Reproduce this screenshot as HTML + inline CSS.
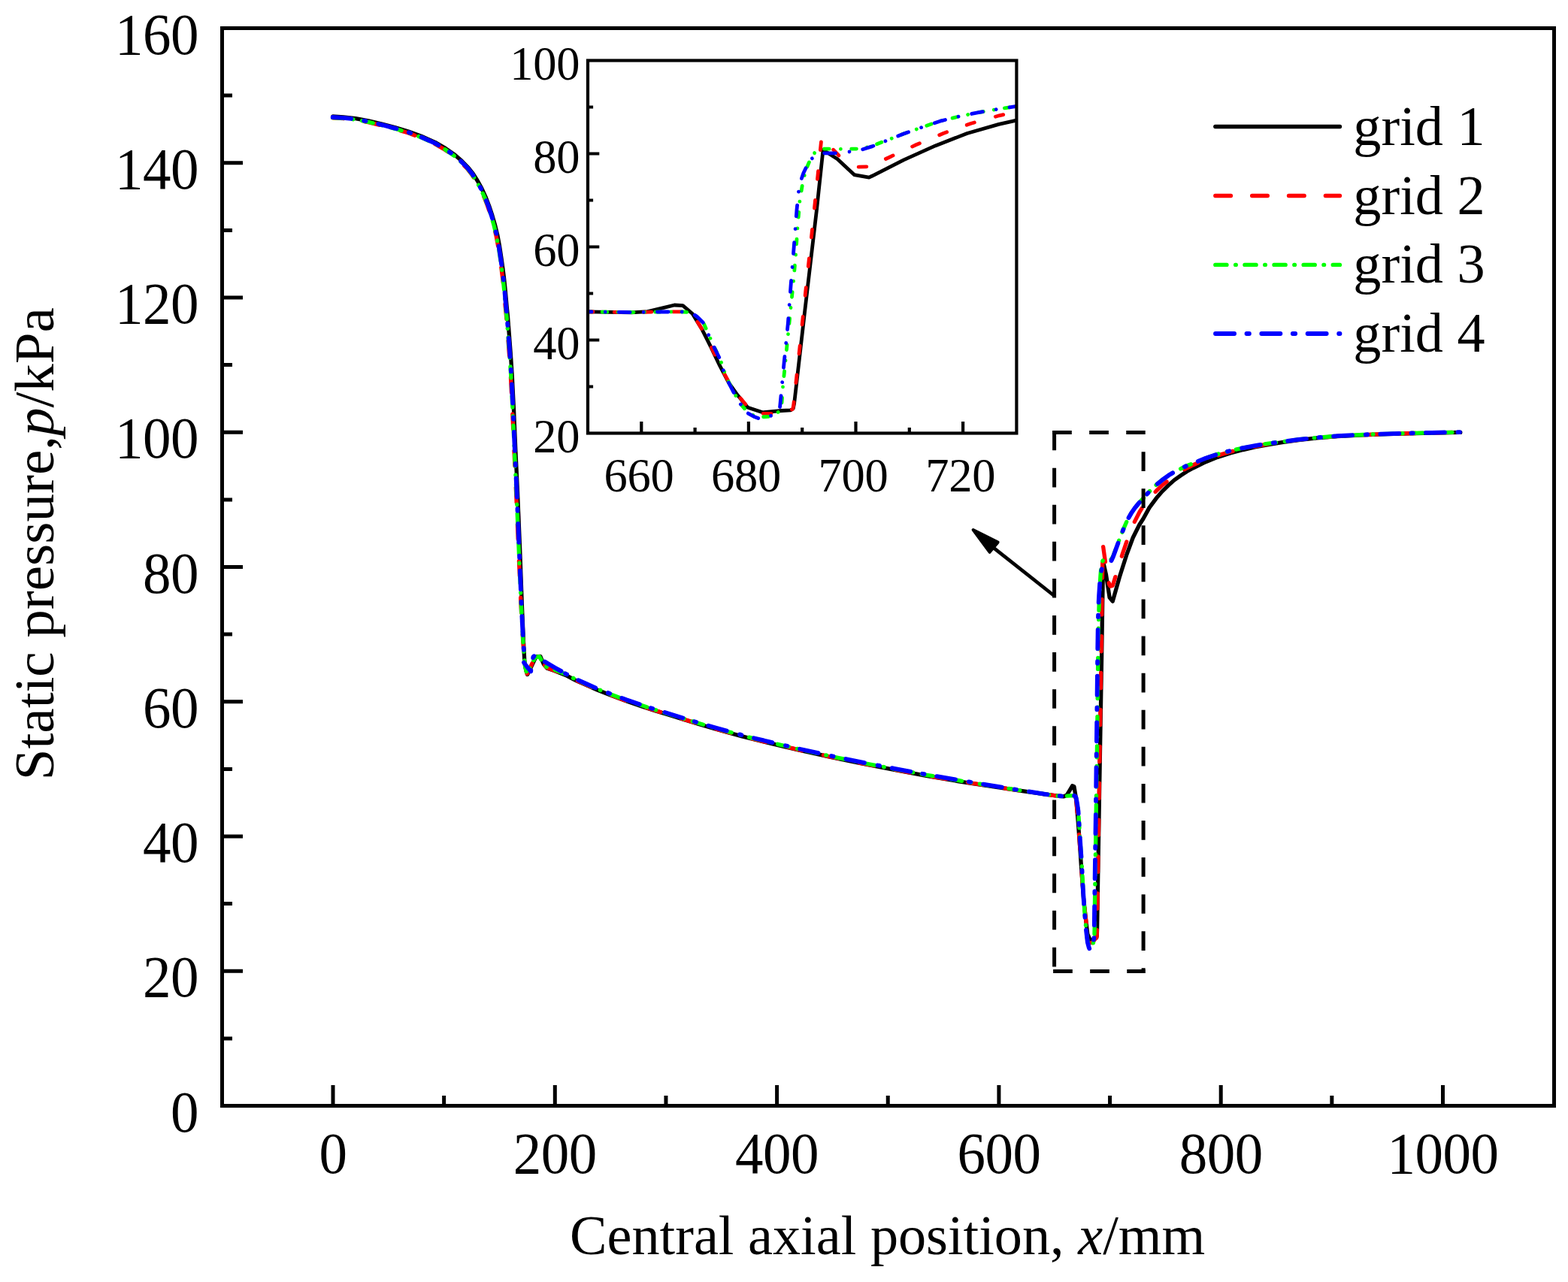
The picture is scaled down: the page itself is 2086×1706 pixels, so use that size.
<!DOCTYPE html>
<html lang="en"><head><meta charset="utf-8"><title>Static pressure along central axis</title>
<style>html,body{margin:0;padding:0;background:#fff}svg{display:block}text{font-family:'Liberation Serif','Times New Roman',serif;fill:#000}</style>
</head><body>
<svg xmlns="http://www.w3.org/2000/svg" width="2086" height="1706" viewBox="0 0 2086 1706">
<rect x="0" y="0" width="2086" height="1706" fill="#fff"/>
<g fill="none" stroke-linejoin="round" stroke-linecap="round" stroke-width="5.3">
<path stroke="#000" d="M442.76,155 L457.09,155.8 L472.95,157.61 L490.21,160.82 L508.14,165.13 L525.27,169.64 L543.41,174.95 L560.38,181.27 L578.75,189.41 L592.54,197.36 L605.21,206.21 L614.19,214.07 L622.95,223.04 L629.32,231.23 L635.36,240.79 L640.89,250.85 L646.02,262.01 L650.54,273.66 L654.86,286.7 L658.47,299.24 L661.88,313.19 L664.69,328.34 L667.19,344.96 L668.99,357.87 L670.69,371.29 L672.5,388.91 L674.2,408.31 L675.4,419.91 L677.4,445.62 L679.4,471.93 L681.2,498.94 L683.5,544.75 L685.8,598.15 L688.5,654.96 L691.6,729.06 L694.47,808.17 L696.53,855.68 L697.8,879.4 L698.8,887.5 L700.3,893.6 L701.6,897.6 L703.6,894 L707.5,885.6 L713.1,873.9 L718.8,873.4 L721,878.5 L723.4,884 L727.9,889.2 L737.5,892.6 L752.56,898.42 L765.6,905.24 L779.35,911.46 L794.39,917.98 L813.43,925.49 L832.86,932.71 L851.49,939.12 L871.31,945.62 L889.53,951.33 L909.63,957.43 L928.54,963.33 L948.06,969.04 L966.57,974.24 L986.39,979.65 L1004.62,984.25 L1024.83,989.16 L1043.63,993.56 L1063.15,998.16 L1103.66,1007.16 L1145.99,1015.97 L1189.7,1024.37 L1232.32,1032.37 L1275.73,1039.78 L1318.73,1046.45 L1361.92,1052.93 L1402.8,1058.7 L1414.8,1059.95 L1419.19,1058.21 L1423.31,1051.42 L1426.58,1045.78 L1428.9,1046.79 L1431.55,1062.41 L1434.22,1092.91 L1436.67,1126.88 L1439.09,1162.44 L1441.51,1194.67 L1443.73,1216.65 L1446.79,1242.67 L1450.87,1252.21 L1456.15,1248.88 L1458.64,1247.87 L1459.32,1244.69 L1459.59,1235.15 L1462.36,1066.02 L1465.76,863.64 L1467.54,747.27 L1471.46,764.62 L1476.12,795.12 L1480.19,800.18 L1481,797.58 L1489.74,766.64 L1498.48,739.18 L1507.22,715.47 L1515.96,697.98 L1520.82,690.46 L1528.97,675.63 L1538.27,663.08 L1545.95,654.12 L1554.66,645.61 L1562.19,638.88 L1571.05,632.61 L1579.17,627.23 L1587.44,622.75 L1603.97,614.69 L1619.77,608.41 L1636.75,603.03 L1653.73,598.55 L1669.53,594.97 L1686.21,591.83 L1705.7,588.69 L1727.55,585.56 L1751.77,582.87 L1779.23,580.63 L1813.19,578.84 L1845.67,577.67 L1874.47,576.86 L1904.73,576.15 L1942.83,575.43"/>
<path stroke="#f00" stroke-dasharray="20.2 28.7" stroke-dashoffset="5.75" d="M442.65,156.9 L456.92,157.7 L472.67,159.49 L489.81,162.68 L507.68,166.97 L524.76,171.47 L542.82,176.75 L559.66,183.03 L577.9,191.1 L591.52,198.96 L604.05,207.71 L612.88,215.45 L621.53,224.3 L627.76,232.32 L633.72,241.76 L639.2,251.7 L644.27,262.75 L648.75,274.3 L653.04,287.27 L656.63,299.73 L660.02,313.59 L662.81,328.65 L665.31,345.23 L667.11,358.12 L668.81,371.5 L670.6,389.08 L672.3,408.48 L673.5,420.08 L675.5,445.77 L677.5,472.06 L679.3,499.05 L681.6,544.84 L683.9,598.24 L686.6,655.04 L689.7,729.14 L693.2,808.23 L695.9,855.72 L697.8,879.4 L698.6,886.5 L700,892.6 L701.3,896.8 L703.2,893.2 L706.6,885.6 L712.3,874.2 L718.2,873.4 L720.6,878.4 L723.2,883.6 L727.6,888.6 L737.4,892.2 L752.7,898.15 L765.73,904.97 L779.47,911.19 L794.51,917.7 L813.54,925.21 L832.96,932.42 L851.59,938.83 L871.4,945.34 L889.62,951.04 L909.72,957.14 L928.62,963.04 L948.14,968.75 L966.65,973.95 L986.47,979.36 L1004.69,983.96 L1024.9,988.86 L1043.7,993.27 L1063.21,997.87 L1103.73,1006.87 L1146.05,1015.67 L1189.76,1024.08 L1232.37,1032.08 L1275.78,1039.48 L1318.76,1046.26 L1361.93,1052.83 L1402.8,1058.7 L1414.8,1059.66 L1423.02,1058.79 L1428.94,1058.65 L1430.27,1059.66 L1431.68,1064 L1434.45,1095.22 L1436.89,1128.76 L1439.32,1164.32 L1441.72,1195.83 L1443.93,1217.8 L1446.79,1241.66 L1449.11,1251.92 L1450.56,1254.52 L1453.67,1254.52 L1456.15,1250.33 L1458.64,1247.87 L1459.18,1245.56 L1459.38,1239.49 L1461.04,1131.79 L1462.72,1019.91 L1464.44,907.87 L1466.09,795.7 L1466.9,739.32 L1467.13,723.85 L1470.03,744.53 L1472.2,760.28 L1474.48,773.29 L1475.93,778.35 L1477.07,780.09 L1479.97,779.51 L1481,776.91 L1485.81,761.29 L1493.12,737.59 L1500.65,715.47 L1508.32,696.39 L1516.06,681.21 L1520.82,673.69 L1528.97,663.53 L1538.27,653.22 L1545.95,646.05 L1554.66,638.88 L1562.19,633.06 L1571.05,627.23 L1579.17,622.75 L1587.44,618.72 L1603.97,611.55 L1619.77,606.17 L1636.75,601.24 L1653.73,597.21 L1669.53,594.07 L1686.21,590.93 L1705.7,588.25 L1727.55,585.11 L1751.77,582.6 L1779.23,580.45 L1813.19,578.66 L1845.67,577.49 L1874.47,576.68 L1904.73,575.97 L1942.83,575.25"/>
<path stroke="#0f0" stroke-dasharray="15 11.72 0.7 11.72" d="M442.67,156.5 L456.96,157.3 L472.73,159.09 L489.9,162.29 L507.78,166.58 L524.87,171.08 L542.94,176.37 L559.81,182.66 L578.08,190.75 L591.73,198.62 L604.29,207.4 L613.16,215.16 L621.83,224.03 L628.09,232.09 L634.07,241.55 L639.55,251.52 L644.64,262.59 L649.13,274.17 L653.42,287.15 L657.02,299.63 L660.41,313.5 L663.21,328.58 L665.71,345.17 L667.5,358.07 L669.2,371.46 L671,389.05 L672.7,408.45 L673.9,420.04 L675.9,445.74 L677.9,472.04 L679.7,499.03 L682,544.82 L684.3,598.22 L687,655.02 L690.1,729.12 L693.47,808.21 L696.03,855.71 L697.8,879.4 L698.4,886 L699.9,892.6 L701.2,897.2 L703.2,893 L706.8,884.8 L712,874.6 L717.6,873.6 L720.2,878.6 L723.6,884.6 L727.4,887.8 L737.2,891.2 L753.07,897.44 L766.08,904.25 L779.8,910.46 L794.81,916.96 L813.82,924.47 L833.23,931.67 L851.84,938.07 L871.65,944.58 L889.85,950.28 L909.95,956.38 L928.86,962.28 L948.36,967.98 L966.87,973.18 L986.67,978.58 L1004.88,983.19 L1025.08,988.09 L1043.89,992.49 L1063.39,997.09 L1103.89,1006.09 L1146.2,1014.89 L1189.91,1023.29 L1232.51,1031.29 L1275.92,1038.69 L1318.85,1045.73 L1361.97,1052.56 L1402.8,1058.7 L1414.8,1059.66 L1423.02,1058.79 L1428.9,1058.79 L1430.27,1059.37 L1431.59,1061.68 L1433.08,1069.49 L1434.62,1080.47 L1435.9,1100.71 L1437.56,1126.73 L1439.25,1150.73 L1440.25,1172.41 L1441.7,1196.12 L1443.17,1216.36 L1444.97,1237.46 L1446.96,1253.08 L1448.7,1259.15 L1450.87,1260.88 L1452.9,1260.16 L1454.29,1255.39 L1455.2,1251.63 L1455.86,1246.71 L1456.13,1236.6 L1456.46,1203.06 L1457.91,1101.58 L1458.64,1050.99 L1459.4,998.8 L1460,948.93 L1460.5,897.47 L1461.1,846.44 L1461.83,814.49 L1462.45,794.98 L1463.15,779.8 L1464.02,765.63 L1465.18,753.2 L1466.4,747.27 L1467.67,745.25 L1472.39,745.54 L1477.13,745.25 L1478.93,743.66 L1481,739.61 L1489.74,716.34 L1494.67,703.91 L1499.78,691.91 L1504.82,683.23 L1509.83,675.86 L1515.17,669.36 L1520.82,663.28 L1528.97,654.12 L1538.27,645.16 L1545.95,638.88 L1554.66,632.61 L1562.19,628.13 L1571.05,623.65 L1579.17,619.61 L1587.44,616.48 L1603.97,609.76 L1619.77,604.38 L1636.75,599.9 L1653.73,596.04 L1669.53,593.17 L1686.21,590.31 L1705.7,587.8 L1727.55,584.93 L1751.77,582.42 L1779.23,580.18 L1813.19,578.48 L1845.67,577.31 L1874.47,576.5 L1904.73,575.79 L1942.83,575.07"/>
</g>
<g fill="none" stroke-linejoin="round" stroke-linecap="round" stroke-width="5.8">
<path stroke="#00f" stroke-dasharray="25.1 17.05 2.5 17.05" stroke-dashoffset="0.4" d="M442.7,156 L457,156.8 L472.8,158.6 L490,161.8 L507.9,166.1 L525,170.6 L543.1,175.9 L549.67,178.35"/>
<path stroke="#00f" stroke-dasharray="25.1 17.05 2.5 17.05" stroke-dashoffset="49.91" d="M549.67,178.35 L560,182.2 L578.3,190.3 L592,198.2 L604.6,207 L613.5,214.8 L622.2,223.7 L628.5,231.8 L632.07,237.46"/>
<path stroke="#00f" stroke-dasharray="25.1 17.05 2.5 17.05" stroke-dashoffset="28.64" d="M632.07,237.46 L634.5,241.3 L640,251.3 L645.1,262.4 L649.6,274 L653.9,287 L656.31,295.36"/>
<path stroke="#00f" stroke-dasharray="25.1 17.05 2.5 17.05" stroke-dashoffset="28.66" d="M656.31,295.36 L657.5,299.5 L660.9,313.4 L663.7,328.5 L666.2,345.1 L667.81,356.66"/>
<path stroke="#00f" stroke-dasharray="25.1 17.05 2.5 17.05" stroke-dashoffset="28.7" d="M667.81,356.66 L668,358 L669.7,371.4 L671.5,389 L673.2,408.4 L674.21,418.12"/>
<path stroke="#00f" stroke-dasharray="25.1 17.05 2.5 17.05" stroke-dashoffset="29.8" d="M674.21,418.12 L674.4,420 L676.4,445.7 L678.4,472 L680.2,499 L682.35,541.86"/>
<path stroke="#00f" stroke-dasharray="25.1 17.05 2.5 17.05" stroke-dashoffset="28.69" d="M682.35,541.86 L682.5,544.8 L684.8,598.2 L687.5,655 L687.92,665.09"/>
<path stroke="#00f" stroke-dasharray="25.1 17.05 2.5 17.05" stroke-dashoffset="29.96" d="M687.92,665.09 L690.48,726.24"/>
<path stroke="#00f" stroke-dasharray="25.1 17.05 2.5 17.05" stroke-dashoffset="28.64" d="M690.48,726.24 L690.6,729.1 L692.98,787.92"/>
<path stroke="#00f" stroke-dasharray="25.1 17.05 2.5 17.05" stroke-dashoffset="29.43" d="M692.98,787.92 L693.8,808.2 L695.86,848.98"/>
<path stroke="#00f" stroke-dasharray="25.1 17.05 2.5 17.05" stroke-dashoffset="28.74" d="M695.86,848.98 L696.2,855.7 L697.8,879.4 L696.9,881.5 L699.5,885.2 L703,889.6 L706.1,893.2"/>
<path stroke="#00f" stroke-dasharray="25.1 17.05 2.5 17.05" stroke-dashoffset="23.92" d="M706.1,893.2 L707,888 L708.2,880 L709.4,874.2 L711.4,872.4 L713.6,873 L717.4,876 L728,882.4 L739,888.9 L749.14,894.64"/>
<path stroke="#00f" stroke-dasharray="25.1 17.05 2.5 17.05" stroke-dashoffset="38.97" d="M749.14,894.64 L753.3,897 L766.3,903.8 L780,910 L795,916.5 L796.28,917.01"/>
<path stroke="#00f" stroke-dasharray="25.1 17.05 2.5 17.05" stroke-dashoffset="28.62" d="M796.28,917.01 L814,924 L833.4,931.2 L852,937.6 L854.22,938.33"/>
<path stroke="#00f" stroke-dasharray="25.1 17.05 2.5 17.05" stroke-dashoffset="29.93" d="M854.22,938.33 L871.8,944.1 L890,949.8 L910.1,955.9 L912,956.49"/>
<path stroke="#00f" stroke-dasharray="25.1 17.05 2.5 17.05" stroke-dashoffset="29.81" d="M912,956.49 L929,961.8 L948.5,967.5 L967,972.7 L971.17,973.84"/>
<path stroke="#00f" stroke-dasharray="25.1 17.05 2.5 17.05" stroke-dashoffset="28.82" d="M971.17,973.84 L986.8,978.1 L1005,982.7 L1025.2,987.6 L1031.95,989.18"/>
<path stroke="#00f" stroke-dasharray="25.1 17.05 2.5 17.05" stroke-dashoffset="28.79" d="M1031.95,989.18 L1044,992 L1063.5,996.6 L1093.12,1003.18"/>
<path stroke="#00f" stroke-dasharray="25.1 17.05 2.5 17.05" stroke-dashoffset="28.75" d="M1093.12,1003.18 L1104,1005.6 L1146.3,1014.4 L1154.24,1015.93"/>
<path stroke="#00f" stroke-dasharray="25.1 17.05 2.5 17.05" stroke-dashoffset="28.62" d="M1154.24,1015.93 L1190,1022.8 L1214.98,1027.49"/>
<path stroke="#00f" stroke-dasharray="25.1 17.05 2.5 17.05" stroke-dashoffset="29.85" d="M1214.98,1027.49 L1232.6,1030.8 L1275.67,1038.14"/>
<path stroke="#00f" stroke-dasharray="25.1 17.05 2.5 17.05" stroke-dashoffset="28.84" d="M1275.67,1038.14 L1276,1038.2 L1318.9,1045.4 L1336.44,1048.25"/>
<path stroke="#00f" stroke-dasharray="25.1 17.05 2.5 17.05" stroke-dashoffset="28.85" d="M1336.44,1048.25 L1362,1052.4 L1397.35,1057.86"/>
<path stroke="#00f" stroke-dasharray="25.1 17.05 2.5 17.05" stroke-dashoffset="29.78" d="M1397.35,1057.86 L1402.8,1058.7 L1414.8,1059.66 L1423.02,1058.79 L1428.9,1058.79 L1430.27,1059.37 L1431.51,1061.39 L1432.96,1068.91 L1434.47,1079.32 L1434.91,1086.18"/>
<path stroke="#00f" stroke-dasharray="25.1 17.05 2.5 17.05" stroke-dashoffset="32.91" d="M1434.91,1086.18 L1435.75,1099.27 L1437.39,1125.14 L1438.79,1144.74"/>
<path stroke="#00f" stroke-dasharray="25.1 17.05 2.5 17.05" stroke-dashoffset="28.7" d="M1438.79,1144.74 L1439.09,1148.85 L1440.06,1170.97 L1441.51,1194.67 L1442.36,1206.4"/>
<path stroke="#00f" stroke-dasharray="25.1 17.05 2.5 17.05" stroke-dashoffset="30.33" d="M1442.36,1206.4 L1442.98,1214.91 L1444.78,1236.16 L1446.85,1253.94 L1448.7,1260.88 L1450.52,1265.8 L1451.53,1263.51"/>
<path stroke="#00f" stroke-dasharray="25.1 17.05 2.5 17.05" stroke-dashoffset="28.8" d="M1451.53,1263.51 L1451.8,1262.91 L1453.15,1258.71 L1454.7,1253.36 L1455.41,1248.74 L1455.66,1241.51 L1455.84,1227.92 L1456.18,1202.23"/>
<path stroke="#00f" stroke-dasharray="25.1 17.05 2.5 17.05" stroke-dashoffset="28.67" d="M1456.18,1202.23 L1456.82,1154.92 L1457.02,1140.5"/>
<path stroke="#00f" stroke-dasharray="25.1 17.05 2.5 17.05" stroke-dashoffset="30.4" d="M1457.02,1140.5 L1457.87,1081.34 L1457.89,1079.36"/>
<path stroke="#00f" stroke-dasharray="25.1 17.05 2.5 17.05" stroke-dashoffset="28.75" d="M1457.89,1079.36 L1458.55,1017.7"/>
<path stroke="#00f" stroke-dasharray="25.1 17.05 2.5 17.05" stroke-dashoffset="30.4" d="M1458.55,1017.7 L1458.64,1009.35 L1459.24,957.6"/>
<path stroke="#00f" stroke-dasharray="25.1 17.05 2.5 17.05" stroke-dashoffset="28.8" d="M1459.24,957.6 L1459.49,935.92 L1459.92,896"/>
<path stroke="#00f" stroke-dasharray="25.1 17.05 2.5 17.05" stroke-dashoffset="28.9" d="M1459.92,896 L1460.29,862.19 L1460.71,834.48"/>
<path stroke="#00f" stroke-dasharray="25.1 17.05 2.5 17.05" stroke-dashoffset="28.88" d="M1460.71,834.48 L1460.81,827.65 L1461.37,807.26 L1462.12,792.08 L1463.19,776.18 L1464.52,763.61 L1465.89,756.67 L1467.67,753.49 L1468.33,753.49"/>
<path stroke="#00f" stroke-dasharray="25.1 17.05 2.5 17.05" stroke-dashoffset="48.22" d="M1468.33,753.49 L1471.6,753.49 L1474.79,750.89 L1478,747.27 L1481,740.62 L1489.74,716.34 L1494.67,703.91 L1499.78,691.91 L1504.82,683.23 L1509.83,675.86 L1515.17,669.36 L1518.36,665.93"/>
<path stroke="#00f" stroke-dasharray="25.1 17.05 2.5 17.05" stroke-dashoffset="30.99" d="M1518.36,665.93 L1520.82,663.28 L1528.97,654.12 L1538.27,645.16 L1545.95,638.88 L1554.66,632.61 L1562.19,628.13 L1563.79,627.32"/>
<path stroke="#00f" stroke-dasharray="25.1 17.05 2.5 17.05" stroke-dashoffset="28.8" d="M1563.79,627.32 L1571.05,623.65 L1579.17,619.61 L1587.44,616.48 L1603.97,609.76 L1619.77,604.38 L1620.72,604.13"/>
<path stroke="#00f" stroke-dasharray="25.1 17.05 2.5 17.05" stroke-dashoffset="29.43" d="M1620.72,604.13 L1636.75,599.9 L1653.73,596.04 L1669.53,593.17 L1680.45,591.3"/>
<path stroke="#00f" stroke-dasharray="25.1 17.05 2.5 17.05" stroke-dashoffset="28.74" d="M1680.45,591.3 L1686.21,590.31 L1705.7,587.8 L1727.55,584.93 L1741.75,583.46"/>
<path stroke="#00f" stroke-dasharray="25.1 17.05 2.5 17.05" stroke-dashoffset="29.26" d="M1741.75,583.46 L1751.77,582.42 L1779.23,580.18 L1803.35,578.97"/>
<path stroke="#00f" stroke-dasharray="25.1 17.05 2.5 17.05" stroke-dashoffset="28.76" d="M1803.35,578.97 L1813.19,578.48 L1845.67,577.31 L1865.02,576.77"/>
<path stroke="#00f" stroke-dasharray="25.1 17.05 2.5 17.05" stroke-dashoffset="29.83" d="M1865.02,576.77 L1874.47,576.5 L1904.73,575.79 L1926.13,575.38"/>
<path stroke="#00f" stroke-dasharray="25.1 17.05 2.5 17.05" stroke-dashoffset="28.84" d="M1926.13,575.38 L1942.83,575.07"/>
</g>
<g stroke="#000" stroke-width="5" fill="none" stroke-linecap="butt">
<rect x="295.5" y="37.5" width="1772" height="1434"/>
<path d="M443,1471.5V1444M590.65,1471.5V1458M738.3,1471.5V1444M885.95,1471.5V1458M1033.6,1471.5V1444M1181.25,1471.5V1458M1328.9,1471.5V1444M1476.55,1471.5V1458M1624.2,1471.5V1444M1771.85,1471.5V1458M1919.5,1471.5V1444M295.5,1381.88H309M295.5,1292.25H323M295.5,1202.62H309M295.5,1113H323M295.5,1023.38H309M295.5,933.75H323M295.5,844.12H309M295.5,754.5H323M295.5,664.88H309M295.5,575.25H323M295.5,485.62H309M295.5,396H323M295.5,306.38H309M295.5,216.75H323M295.5,127.12H309"/>
</g>
<g stroke="#000" stroke-width="5" fill="none" stroke-dasharray="25.7 23.38">
<path d="M1402.6,573.6V1292.4"/>
<path d="M1400.1,575.4H1523.7"/>
<path d="M1401.1,1292.5H1523.6"/>
<path d="M1521.1,601.2V1294.9"/>
</g>
<g stroke="#000" fill="#000" stroke-linejoin="round">
<path d="M1402.7,793L1322,729.05" stroke-width="4.7" fill="none"/>
<path d="M1294.6,705L1327.6,721.6L1316.6,734.8Z" stroke-width="4"/>
</g>
<rect x="782" y="80.5" width="570.4" height="496" fill="#fff" stroke="none"/>
<clipPath id="ic"><rect x="782" y="80.5" width="570.4" height="496"/></clipPath>
<g fill="none" stroke-linejoin="round" stroke-linecap="round" stroke-width="4.8" clip-path="url(#ic)">
<path stroke="#000" d="M782,414.9 L840.3,415.8 L861.5,414.6 L881.4,409.9 L897.2,406 L908.4,406.7 L921.2,417.5 L934.1,438.6 L945.9,462.1 L957.6,486.7 L969.3,509 L980,524.2 L994.8,542.2 L1014.5,548.8 L1040,546.5 L1052,545.8 L1055.3,543.6 L1056.6,537 L1070,420 L1086.4,280 L1095,199.5 L1113.9,211.5 L1136.4,232.6 L1156.1,236.1 L1160,234.3 L1202.2,212.9 L1244.4,193.9 L1286.6,177.5 L1328.8,165.4 L1352.3,160.2"/>
<path stroke="#f00" stroke-dasharray="10.7 28.2" stroke-dashoffset="3.71" d="M782,414.9 L840.3,415.6 L880,415 L908.6,414.9 L915,415.6 L921.8,418.6 L935.2,440.2 L947,463.4 L958.7,488 L970.3,509.8 L981,525 L993.73,540.22"/>
<path stroke="#f00" stroke-dasharray="10.7 28.2" stroke-dashoffset="14.5" d="M993.73,540.22 L994.8,541.5 L1006,548.6 L1013,550.4 L1028,550.4 L1040,547.5 L1052,545.8 L1054.6,544.2 L1055.6,540 L1057.51,522.25"/>
<path stroke="#f00" stroke-dasharray="10.7 28.2" stroke-dashoffset="26.06" d="M1057.51,522.25 L1063.6,465.5 L1069.68,407.39"/>
<path stroke="#f00" stroke-dasharray="10.7 28.2" stroke-dashoffset="24.74" d="M1069.68,407.39 L1071.7,388.1 L1080,310.6 L1082.01,291.15"/>
<path stroke="#f00" stroke-dasharray="10.7 28.2" stroke-dashoffset="24.67" d="M1082.01,291.15 L1088,233 L1091.9,194 L1092.73,185.96"/>
<path stroke="#f00" stroke-dasharray="10.7 28.2" stroke-dashoffset="14" d="M1092.73,185.96 L1093,183.3 L1107,197.6 L1117.5,208.5 L1127.79,216.92"/>
<path stroke="#f00" stroke-dasharray="10.7 28.2" stroke-dashoffset="23.38" d="M1127.79,216.92 L1128.5,217.5 L1135.5,221 L1141,222.2 L1155,221.8 L1160,220 L1165.79,217.3"/>
<path stroke="#f00" stroke-dasharray="10.7 28.2" stroke-dashoffset="25.05" d="M1165.79,217.3 L1183.2,209.2 L1218.5,192.8 L1226.45,189.46"/>
<path stroke="#f00" stroke-dasharray="10.7 28.2" stroke-dashoffset="13.7" d="M1226.45,189.46 L1254.9,177.5 L1291.9,164.3 L1300.3,161.94"/>
<path stroke="#f00" stroke-dasharray="10.7 28.2" stroke-dashoffset="13.93" d="M1300.3,161.94 L1329.3,153.8 L1352.3,148.6"/>
<path stroke="#0f0" stroke-dasharray="6.7 14.29 0.01 14.29" stroke-dashoffset="16.19" d="M782,414.9 L840.3,415.6 L880,415 L908.4,415 L915,415.4 L921.4,417 L928.6,422.4 L936,430 L942.2,444 L950.2,462 L958.4,478.6 L961.57,488.5"/>
<path stroke="#0f0" stroke-dasharray="6.7 14.29 0.01 14.29" stroke-dashoffset="14.47" d="M961.57,488.5 L963.2,493.6 L970.2,510 L977.3,524 L986,538.6 L995.6,549.4 L1004,553.6 L1014.5,554.8 L1024.3,554.3 L1025.36,553.78"/>
<path stroke="#0f0" stroke-dasharray="6.7 14.29 0.01 14.29" stroke-dashoffset="9.85" d="M1025.36,553.78 L1031,551 L1035.4,548.4 L1038.6,545 L1039.9,538 L1041.5,514.8 L1045.32,476.47"/>
<path stroke="#0f0" stroke-dasharray="6.7 14.29 0.01 14.29" stroke-dashoffset="24.28" d="M1045.32,476.47 L1048.5,444.6 L1052,409.6 L1054.48,385.36"/>
<path stroke="#0f0" stroke-dasharray="6.7 14.29 0.01 14.29" stroke-dashoffset="9.76" d="M1054.48,385.36 L1055.7,373.5 L1058.6,339 L1061,303.4 L1061.28,300.04"/>
<path stroke="#0f0" stroke-dasharray="6.7 14.29 0.01 14.29" stroke-dashoffset="24.25" d="M1061.28,300.04 L1063.9,268.1 L1067.4,246 L1070.4,232.5 L1071.06,230.48"/>
<path stroke="#0f0" stroke-dasharray="6.7 14.29 0.01 14.29" stroke-dashoffset="26.47" d="M1071.06,230.48 L1073.8,222 L1078,212.2 L1083.6,203.6 L1089.5,199.5 L1095.6,198.1 L1107.28,198.2"/>
<path stroke="#0f0" stroke-dasharray="6.7 14.29 0.01 14.29" stroke-dashoffset="9.88" d="M1107.28,198.2 L1118.4,198.3 L1141.3,198.1 L1150,197 L1156.39,195.21"/>
<path stroke="#0f0" stroke-dasharray="6.7 14.29 0.01 14.29" stroke-dashoffset="24.49" d="M1156.39,195.21 L1160,194.2 L1202.2,178.1 L1226,169.5 L1242.62,163.92"/>
<path stroke="#0f0" stroke-dasharray="6.7 14.29 0.01 14.29" stroke-dashoffset="9.86" d="M1242.62,163.92 L1250.7,161.2 L1275,155.2 L1299.2,150.1 L1325,145.6 L1352.3,141.4"/>
<path stroke="#00f" stroke-dasharray="14.9 18.05 0.01 18.05" stroke-dashoffset="9.76" d="M782,414.9 L840.3,415.6 L880,415 L908.4,415 L915,415.4 L921,416.8 L928,422 L935.3,429.2 L941.5,443 L949.4,460.9 L957.6,477.3 L962.3,492.6 L969.3,509 L976.4,523 L985.1,537.7 L987.28,540.38"/>
<path stroke="#00f" stroke-dasharray="14.9 18.05 0.01 18.05" stroke-dashoffset="38.38" d="M987.28,540.38 L995.1,550 L1004,554.8 L1012.8,558.2 L1019,556.2 L1025.5,553.3 L1033,549.6 L1036.4,546.4 L1037.6,541.4 L1038.5,532 L1041.08,504.26"/>
<path stroke="#00f" stroke-dasharray="14.9 18.05 0.01 18.05" stroke-dashoffset="35.98" d="M1041.08,504.26 L1043.2,481.5 L1048.3,430.6 L1050.38,402.54"/>
<path stroke="#00f" stroke-dasharray="14.9 18.05 0.01 18.05" stroke-dashoffset="36.77" d="M1050.38,402.54 L1052,380.8 L1056.1,330 L1058.28,301.54"/>
<path stroke="#00f" stroke-dasharray="14.9 18.05 0.01 18.05" stroke-dashoffset="37.32" d="M1058.28,301.54 L1060,279 L1062.5,255.1 L1065.2,241 L1068.8,230.5 L1073.29,221"/>
<path stroke="#00f" stroke-dasharray="14.9 18.05 0.01 18.05" stroke-dashoffset="20.49" d="M1073.29,221 L1074,219.5 L1080.4,210.8 L1087,206 L1095.6,203.8 L1114.6,203.8 L1115.08,203.74"/>
<path stroke="#00f" stroke-dasharray="14.9 18.05 0.01 18.05" stroke-dashoffset="17.93" d="M1115.08,203.74 L1130,202 L1145.5,199.5 L1160,194.9 L1164.83,192.98"/>
<path stroke="#00f" stroke-dasharray="14.9 18.05 0.01 18.05" stroke-dashoffset="18.84" d="M1164.83,192.98 L1202.2,178.1 L1226,169.5 L1229.18,168.43"/>
<path stroke="#00f" stroke-dasharray="14.9 18.05 0.01 18.05" stroke-dashoffset="36.18" d="M1229.18,168.43 L1250.7,161.2 L1275,155.2 L1299.2,150.1 L1325,145.6 L1352.3,141.4"/>
</g>
<g stroke="#000" stroke-width="4.2" fill="none">
<rect x="782" y="80.5" width="570.4" height="496"/>
<path d="M853.3,576.5V561M924.6,576.5V569M995.9,576.5V561M1067.2,576.5V569M1138.5,576.5V561M1209.8,576.5V569M1281.1,576.5V561M782,514.5H789.1M782,452.5H797.3M782,390.5H789.1M782,328.5H797.3M782,266.5H789.1M782,204.5H797.3M782,142.5H789.1"/>
</g>
<text transform="translate(263.9 1505.7) scale(1 1.03)" font-size="75" text-anchor="end" letter-spacing="-0.5">0</text>
<text transform="translate(263.9 1326.45) scale(1 1.03)" font-size="75" text-anchor="end" letter-spacing="-0.5">20</text>
<text transform="translate(263.9 1147.2) scale(1 1.03)" font-size="75" text-anchor="end" letter-spacing="-0.5">40</text>
<text transform="translate(263.9 967.95) scale(1 1.03)" font-size="75" text-anchor="end" letter-spacing="-0.5">60</text>
<text transform="translate(263.9 788.7) scale(1 1.03)" font-size="75" text-anchor="end" letter-spacing="-0.5">80</text>
<text transform="translate(263.9 609.45) scale(1 1.03)" font-size="75" text-anchor="end" letter-spacing="-0.5">100</text>
<text transform="translate(263.9 430.2) scale(1 1.03)" font-size="75" text-anchor="end" letter-spacing="-0.5">120</text>
<text transform="translate(263.9 250.95) scale(1 1.03)" font-size="75" text-anchor="end" letter-spacing="-0.5">140</text>
<text transform="translate(263.9 71.7) scale(1 1.03)" font-size="75" text-anchor="end" letter-spacing="-0.5">160</text>
<text transform="translate(443 1560.6) scale(1 1.03)" font-size="75" text-anchor="middle" letter-spacing="-0.5">0</text>
<text transform="translate(738.3 1560.6) scale(1 1.03)" font-size="75" text-anchor="middle" letter-spacing="-0.5">200</text>
<text transform="translate(1033.6 1560.6) scale(1 1.03)" font-size="75" text-anchor="middle" letter-spacing="-0.5">400</text>
<text transform="translate(1328.9 1560.6) scale(1 1.03)" font-size="75" text-anchor="middle" letter-spacing="-0.5">600</text>
<text transform="translate(1624.2 1560.6) scale(1 1.03)" font-size="75" text-anchor="middle" letter-spacing="-0.5">800</text>
<text transform="translate(1919.5 1560.6) scale(1 1.03)" font-size="75" text-anchor="middle" letter-spacing="-0.5">1000</text>
<text transform="translate(758 1668.8) scale(0.99 1)" font-size="75" text-anchor="start">Central axial position, <tspan font-style="italic">x</tspan>/mm</text>
<text transform="translate(70.5 1038.2) rotate(-90)" font-size="75" text-anchor="start">Static pressure,<tspan font-style="italic">p</tspan>/kPa</text>
<g fill="none" stroke-linecap="round" stroke-width="5.3">
<path stroke="#000" d="M1616.8,168.5H1782.5"/>
<path stroke="#f00" stroke-dasharray="20.7 28.15" d="M1616.8,260.5H1782.5"/>
<path stroke="#0f0" stroke-dasharray="15.2 11.6 0.7 11.6" d="M1616.8,352.4H1782.5"/>
<path stroke="#00f" stroke-width="5.8" stroke-dasharray="25.1 16.4 3.4 16.4" d="M1617,444H1782.5"/>
</g>
<text transform="translate(1800.3 192.5) scale(0.99 1)" font-size="75" text-anchor="start">grid 1</text>
<text transform="translate(1800.3 284.5) scale(0.99 1)" font-size="75" text-anchor="start">grid 2</text>
<text transform="translate(1800.3 376.4) scale(0.99 1)" font-size="75" text-anchor="start">grid 3</text>
<text transform="translate(1800.3 468) scale(0.99 1)" font-size="75" text-anchor="start">grid 4</text>
<text transform="translate(771.2 601.5) scale(1 1.01)" font-size="62.5" text-anchor="end" letter-spacing="-0.25">20</text>
<text transform="translate(771.2 477.5) scale(1 1.01)" font-size="62.5" text-anchor="end" letter-spacing="-0.25">40</text>
<text transform="translate(771.2 353.5) scale(1 1.01)" font-size="62.5" text-anchor="end" letter-spacing="-0.25">60</text>
<text transform="translate(771.2 229.5) scale(1 1.01)" font-size="62.5" text-anchor="end" letter-spacing="-0.25">80</text>
<text transform="translate(771.2 105.5) scale(1 1.01)" font-size="62.5" text-anchor="end" letter-spacing="-0.25">100</text>
<text transform="translate(849.9 653.8) scale(1 1.01)" font-size="62.5" text-anchor="middle" letter-spacing="-0.25">660</text>
<text transform="translate(992.5 653.8) scale(1 1.01)" font-size="62.5" text-anchor="middle" letter-spacing="-0.25">680</text>
<text transform="translate(1135.1 653.8) scale(1 1.01)" font-size="62.5" text-anchor="middle" letter-spacing="-0.25">700</text>
<text transform="translate(1277.7 653.8) scale(1 1.01)" font-size="62.5" text-anchor="middle" letter-spacing="-0.25">720</text>
</svg>
</body></html>
